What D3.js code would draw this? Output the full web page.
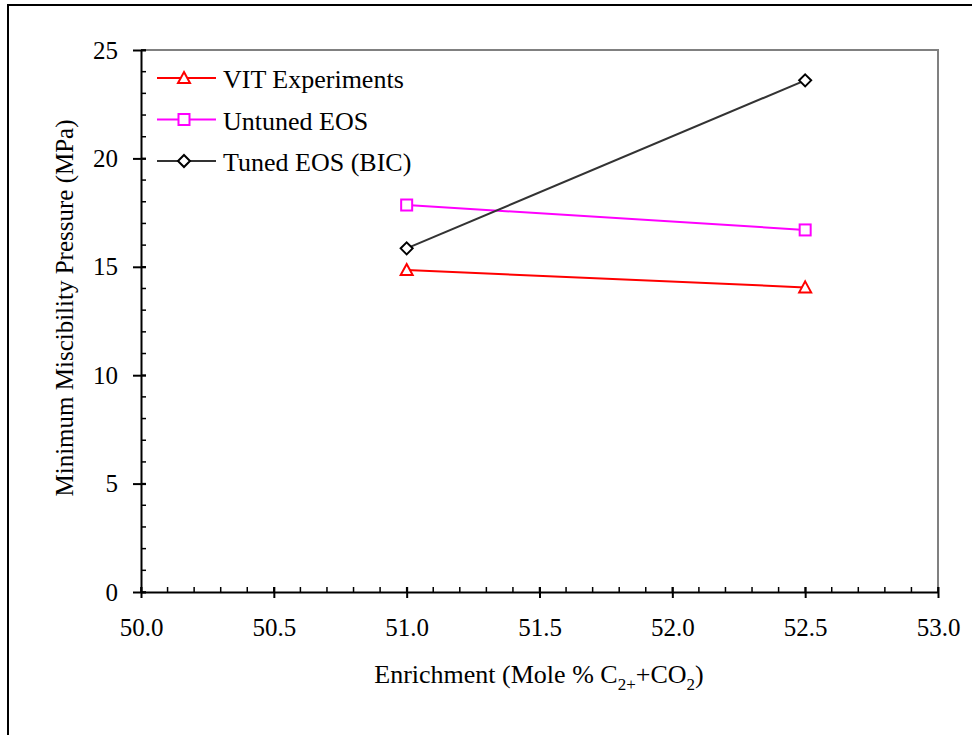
<!DOCTYPE html>
<html>
<head>
<meta charset="utf-8">
<script src="https://cdn.jsdelivr.net/npm/d3@7"></script>
<style>
  html, body { margin: 0; padding: 0; background: #fff; }
  svg text { font-family: "Liberation Serif", "Times New Roman", serif; fill: #000; }
</style>
</head>
<body>
<svg id="chart" width="972" height="735"></svg>
<script>
// Enrichment levels (mole % C2+ + CO2)
const enrichment = [51.0, 52.5];
// Minimum miscibility pressure, MPa
const vitExperiments = [14.85, 14.05];
const untunedEOS = [17.85, 16.7];
const tunedEOS = [15.85, 23.6];
const seriesNames = ["VIT Experiments", "Untuned EOS", "Tuned EOS (BIC)"];
const xTicks = [50.0, 50.5, 51.0, 51.5, 52.0, 52.5, 53.0];
const yTicks = [0, 5, 10, 15, 20, 25];

const svg = d3.select("#chart");

// outer frame
svg.append("rect").attr("x", 8).attr("y", 5).attr("width", 1000).attr("height", 800)
  .attr("fill", "none").attr("stroke", "#000").attr("stroke-width", 2);

const plotLeft = 141, plotRight = 938, plotTop = 50, plotBottom = 592;
const x = d3.scaleLinear().domain([50, 53]).range([plotLeft, plotRight]);
const y = d3.scaleLinear().domain([0, 25]).range([plotBottom, plotTop]);

// grey top/right plot border
svg.append("path")
  .attr("d", `M${plotLeft},${plotTop}H${plotRight}V${plotBottom}`)
  .attr("fill", "none").attr("stroke", "#808080").attr("stroke-width", 2);

// minor ticks (inside)
const xMinor = d3.range(0, 31).map(i => 50 + i * 0.1);
svg.append("g").selectAll("line").data(xMinor).join("line")
  .attr("x1", d => x(d)).attr("x2", d => x(d))
  .attr("y1", plotBottom).attr("y2", plotBottom - 5)
  .attr("stroke", "#000").attr("stroke-width", 1.5);
const yMinor = d3.range(0, 26);
svg.append("g").selectAll("line").data(yMinor).join("line")
  .attr("x1", plotLeft).attr("x2", plotLeft + 5)
  .attr("y1", d => y(d)).attr("y2", d => y(d))
  .attr("stroke", "#000").attr("stroke-width", 1.5);

// x axis
const xAxis = svg.append("g").attr("transform", `translate(0,${plotBottom})`)
  .call(d3.axisBottom(x).tickValues(xTicks).tickFormat(d3.format(".1f")).tickSizeOuter(0).tickSizeInner(6).tickPadding(20));
xAxis.select(".domain").attr("stroke", "#000").attr("stroke-width", 2);
xAxis.selectAll(".tick line").attr("stroke", "#000").attr("stroke-width", 2).attr("y1", -5);
xAxis.selectAll(".tick text").attr("font-size", 25);

// y axis
const yAxis = svg.append("g").attr("transform", `translate(${plotLeft},0)`)
  .call(d3.axisLeft(y).tickValues(yTicks).tickSizeOuter(0).tickSizeInner(8).tickPadding(15));
yAxis.select(".domain").attr("stroke", "#000").attr("stroke-width", 2);
yAxis.selectAll(".tick line").attr("stroke", "#000").attr("stroke-width", 2).attr("x1", 5);
yAxis.selectAll(".tick text").attr("font-size", 25);

// axis titles
svg.append("text").attr("transform", `translate(73,308) rotate(-90)`)
  .attr("text-anchor", "middle").attr("font-size", 25)
  .text("Minimum Miscibility Pressure (MPa)");

const xt = svg.append("text").attr("x", 539).attr("y", 683)
  .attr("text-anchor", "middle").attr("font-size", 26);
xt.append("tspan").text("Enrichment (Mole % C");
xt.append("tspan").attr("font-size", 17).attr("dy", 7).text("2+");
xt.append("tspan").attr("dy", -7).text("+CO");
xt.append("tspan").attr("font-size", 17).attr("dy", 7).text("2");
xt.append("tspan").attr("dy", -7).text(")");

// marker shapes
function drawMarker(g, kind, cx, cy, color) {
  if (kind === "triangle") {
    g.append("path").attr("d", `M${cx},${cy - 6}L${cx + 6},${cy + 5}L${cx - 6},${cy + 5}Z`)
      .attr("fill", "#fff").attr("stroke", color).attr("stroke-width", 2);
  } else if (kind === "square") {
    g.append("rect").attr("x", cx - 5.5).attr("y", cy - 5.5).attr("width", 11).attr("height", 11)
      .attr("fill", "#fff").attr("stroke", color).attr("stroke-width", 2);
  } else {
    g.append("path").attr("d", `M${cx},${cy - 6}L${cx + 6},${cy}L${cx},${cy + 6}L${cx - 6},${cy}Z`)
      .attr("fill", "#fff").attr("stroke", color).attr("stroke-width", 2);
  }
}

const series = [
  { name: seriesNames[0], values: vitExperiments, color: "#ff0000", markerColor: "#ff0000", marker: "triangle" },
  { name: seriesNames[1], values: untunedEOS, color: "#ff00ff", markerColor: "#ff00ff", marker: "square" },
  { name: seriesNames[2], values: tunedEOS, color: "#333333", markerColor: "#000000", marker: "diamond" }
];

const line = d3.line().x(d => x(d[0])).y(d => y(d[1]));
series.forEach(s => {
  const pts = enrichment.map((e, i) => [e, s.values[i]]);
  const g = svg.append("g");
  g.append("path").attr("d", line(pts)).attr("fill", "none")
    .attr("stroke", s.color).attr("stroke-width", 2);
  pts.forEach(p => drawMarker(g, s.marker, x(p[0]), y(p[1]), s.markerColor));
});

// legend
series.forEach((s, i) => {
  const ly = 78 + i * 41.5;
  const g = svg.append("g");
  g.append("line").attr("x1", 157).attr("x2", 216).attr("y1", ly).attr("y2", ly)
    .attr("stroke", s.color).attr("stroke-width", 2);
  drawMarker(g, s.marker, 184, ly, s.markerColor);
  g.append("text").attr("x", 223).attr("y", ly + 10).attr("font-size", 26).text(s.name);
});
</script>
</body>
</html>
